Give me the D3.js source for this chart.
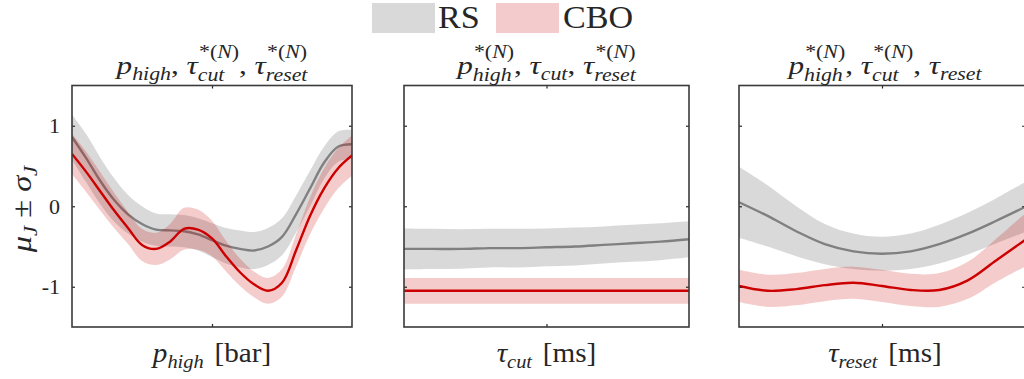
<!DOCTYPE html>
<html>
<head>
<meta charset="utf-8">
<script src="https://cdn.jsdelivr.net/npm/d3@7"></script>
<style>
  body { margin: 0; background: #fff; }
  text { font-family: "Liberation Serif", "DejaVu Serif", serif; fill: #262626; white-space: pre; }
</style>
</head>
<body>
<div id="chart"></div>
<script>
// series names for the legend
const seriesNames = ["RS", "CBO"];

// panel 1: p_high sweep (normalised x)
const xP1 = [0, 0.05, 0.1, 0.15, 0.2, 0.25, 0.3, 0.35, 0.4, 0.45, 0.5, 0.55, 0.6, 0.65, 0.7, 0.75, 0.8, 0.85, 0.9, 0.95, 1];
const rsMeanP1 = [0.86, 0.6, 0.32, 0.08, -0.1, -0.22, -0.29, -0.3, -0.31, -0.35, -0.42, -0.49, -0.53, -0.55, -0.5, -0.38, -0.1, 0.22, 0.54, 0.74, 0.77];
const rsSdP1 = [0.28, 0.3, 0.29, 0.27, 0.24, 0.22, 0.2, 0.2, 0.2, 0.2, 0.21, 0.22, 0.23, 0.23, 0.23, 0.23, 0.23, 0.22, 0.2, 0.19, 0.18];
const cboMeanP1 = [0.65, 0.43, 0.19, -0.05, -0.27, -0.48, -0.53, -0.44, -0.28, -0.29, -0.4, -0.62, -0.82, -0.97, -1.05, -0.95, -0.55, -0.12, 0.22, 0.47, 0.63];
const cboSdP1 = [0.25, 0.25, 0.24, 0.22, 0.2, 0.2, 0.2, 0.22, 0.26, 0.25, 0.22, 0.19, 0.17, 0.16, 0.16, 0.17, 0.2, 0.23, 0.25, 0.25, 0.25];

// panel 2: tau_cut sweep
const xP2 = [0, 0.1, 0.2, 0.3, 0.4, 0.5, 0.6, 0.7, 0.8, 0.9, 1];
const rsMeanP2 = [-0.53, -0.53, -0.53, -0.52, -0.52, -0.51, -0.5, -0.48, -0.46, -0.44, -0.41];
const rsSdP2 = [0.255, 0.25, 0.245, 0.24, 0.24, 0.235, 0.235, 0.23, 0.23, 0.23, 0.225];
const cboMeanP2 = [-1.05, -1.05, -1.05, -1.05, -1.05, -1.05, -1.05, -1.05, -1.05, -1.05, -1.05];
const cboSdP2 = [0.16, 0.16, 0.16, 0.16, 0.16, 0.16, 0.16, 0.16, 0.16, 0.16, 0.16];

// panel 3: tau_reset sweep
const xP3 = [0, 0.1, 0.2, 0.3, 0.4, 0.5, 0.6, 0.7, 0.8, 0.9, 1];
const rsMeanP3 = [0.05, -0.12, -0.31, -0.47, -0.56, -0.59, -0.56, -0.47, -0.34, -0.18, -0.01];
const rsSdP3 = [0.44, 0.38, 0.31, 0.25, 0.22, 0.21, 0.22, 0.24, 0.26, 0.28, 0.31];
const cboMeanP3 = [-0.99, -1.05, -1.03, -0.98, -0.95, -0.99, -1.04, -1.04, -0.92, -0.67, -0.42];
const cboSdP3 = [0.2, 0.2, 0.2, 0.2, 0.2, 0.2, 0.2, 0.21, 0.23, 0.27, 0.33];

const yTicks = [-1, 0, 1];
const yTickLabels = ["-1", "0", "1"];

const width = 1024, height = 379;
const plotTop = 85.5, plotBottom = 327;
const rsLine = "#808080", rsFill = "rgba(128,128,128,0.3)";
const cboLine = "#cc0000", cboFill = "rgba(204,0,0,0.2)";

const svg = d3.select("#chart").append("svg")
  .attr("width", width).attr("height", height);

const yScale = d3.scaleLinear().domain([-1.5, 1.5]).range([plotBottom, plotTop]);

// write a string as tspans: letters in math italic unless roman
const addRuns = (sel, str, roman) => {
  (str.match(/[A-Za-zα-ωμστ]+|[^A-Za-zα-ωμστ]+/g) || []).forEach(run => {
    const letters = /[A-Za-zα-ω]/.test(run);
    sel.append("tspan")
      .style("font-style", letters && !roman ? "italic" : "normal")
      .text(run);
  });
};

// little latex-ish layout: base, subscript and superscript stacked
const mathText = (parent, parts, size) => {
  const g = parent.append("g");
  let x = 0;
  parts.forEach(p => {
    const t = g.append("text").attr("x", x).attr("y", 0).style("font-size", size + "px");
    addRuns(t, p.b, p.rm);
    x += t.node().getComputedTextLength();
    let w = 0;
    const small = size * 0.7;
    if (p.sub) {
      const s = g.append("text").attr("x", x)
        .attr("y", size * (p.sup ? 0.26 : 0.22))
        .style("font-size", small + "px");
      addRuns(s, p.sub, false);
      w = Math.max(w, s.node().getComputedTextLength());
    }
    if (p.sup) {
      const s = g.append("text").attr("x", x + 1)
        .attr("y", -size * 0.62)
        .style("font-size", small + "px");
      addRuns(s, p.sup, false);
      w = Math.max(w, s.node().getComputedTextLength() + 1);
    }
    x += w + (p.gap || 0);
  });
  return { g, w: x };
};

// centre a math label, stretched sideways a little (the source figure is wide)
const placeCentered = (parts, size, cx, baseline, sx) => {
  const m = mathText(svg, parts, size);
  m.g.attr("transform", `translate(${cx - m.w * sx / 2},${baseline}) scale(${sx},1)`);
};

const panels = [
  {
    left: 72, right: 352, x: xP1,
    rs: [rsMeanP1, rsSdP1], cbo: [cboMeanP1, cboSdP1], labels: true,
    title: [{ b: "p", sub: "high" }, { b: ", " }, { b: "τ", sub: "cut", sup: "*(N)" }, { b: ", " }, { b: "τ", sub: "reset", sup: "*(N)" }],
    xlabel: [{ b: "p", sub: "high", gap: 10 }, { b: "[bar]", rm: true }]
  },
  {
    left: 404, right: 689, x: xP2,
    rs: [rsMeanP2, rsSdP2], cbo: [cboMeanP2, cboSdP2], labels: false,
    title: [{ b: "p", sub: "high", sup: "*(N)" }, { b: ", " }, { b: "τ", sub: "cut" }, { b: ", " }, { b: "τ", sub: "reset", sup: "*(N)" }],
    xlabel: [{ b: "τ", sub: "cut", gap: 10 }, { b: "[ms]", rm: true }]
  },
  {
    left: 739, right: 1025, x: xP3,
    rs: [rsMeanP3, rsSdP3], cbo: [cboMeanP3, cboSdP3], labels: false,
    title: [{ b: "p", sub: "high", sup: "*(N)" }, { b: ", " }, { b: "τ", sub: "cut", sup: "*(N)" }, { b: ", " }, { b: "τ", sub: "reset" }],
    xlabel: [{ b: "τ", sub: "reset", gap: 10 }, { b: "[ms]", rm: true }]
  }
];

const drawPanel = (p, i) => {
  const xScale = d3.scaleLinear().domain([0, 1]).range([p.left, p.right]);
  const clipId = "clip" + i;
  svg.append("clipPath").attr("id", clipId)
    .append("rect")
    .attr("x", p.left).attr("y", plotTop)
    .attr("width", p.right - p.left).attr("height", plotBottom - plotTop);

  const inner = svg.append("g").attr("clip-path", `url(#${clipId})`);

  const series = [
    { mean: p.rs[0], sd: p.rs[1], fill: rsFill, line: rsLine },
    { mean: p.cbo[0], sd: p.cbo[1], fill: cboFill, line: cboLine }
  ];

  series.forEach(s => {
    const rows = p.x.map((x, j) => ({ x, m: s.mean[j], sd: s.sd[j] }));
    inner.append("path")
      .datum(rows)
      .attr("fill", s.fill)
      .attr("d", d3.area()
        .x(d => xScale(d.x))
        .y0(d => yScale(d.m - d.sd))
        .y1(d => yScale(d.m + d.sd))
        .curve(d3.curveCatmullRom));
    inner.append("path")
      .datum(rows)
      .attr("fill", "none")
      .attr("stroke", s.line)
      .attr("stroke-width", 2.4)
      .attr("d", d3.line()
        .x(d => xScale(d.x))
        .y(d => yScale(d.m))
        .curve(d3.curveCatmullRom));
  });

  // axes with inward ticks, box drawn separately
  const left = svg.append("g").attr("transform", `translate(${p.left},0)`)
    .call(d3.axisLeft(yScale).tickValues(yTicks).tickSize(-3).tickPadding(12)
      .tickFormat((d, k) => p.labels ? yTickLabels[k] : ""));
  const right = svg.append("g").attr("transform", `translate(${p.right},0)`)
    .call(d3.axisRight(yScale).tickValues(yTicks).tickSize(-3).tickFormat(""));
  const bottom = svg.append("g").attr("transform", `translate(0,${plotBottom})`)
    .call(d3.axisBottom(xScale).tickValues([0.5]).tickSize(-3).tickFormat(""));
  const top = svg.append("g").attr("transform", `translate(0,${plotTop})`)
    .call(d3.axisTop(xScale).tickValues([0.5]).tickSize(-3).tickFormat(""));

  [left, right, bottom, top].forEach(a => {
    a.select(".domain").remove();
    a.selectAll("line").attr("stroke", "#262626").attr("stroke-width", 1.2);
    a.selectAll("text")
      .style("font-family", "'Liberation Serif', serif")
      .style("font-size", "22px")
      .attr("fill", "#262626");
  });

  svg.append("rect")
    .attr("x", p.left).attr("y", plotTop)
    .attr("width", p.right - p.left).attr("height", plotBottom - plotTop)
    .attr("fill", "none")
    .attr("stroke", "#3a3a3a")
    .attr("stroke-width", 1.6);

  const cx = i === 2 ? (p.left + 1031) / 2 : (p.left + p.right) / 2;
  placeCentered(p.title, 26, cx, 74, 1.2);
  placeCentered(p.xlabel, 27, cx, 362, 1.08);
};

panels.forEach(drawPanel);

// y axis label, rotated
const ylab = mathText(svg, [{ b: "μ", sub: "J" }, { b: " ± " }, { b: "σ", sub: "J" }], 27);
ylab.g.attr("transform", `translate(31,${209 + ylab.w * 1.2 / 2}) rotate(-90) scale(1.2,1)`);

// legend
const legendItems = [
  { name: seriesNames[0], fill: "#d9d9d9", x: 372, tx: 438 },
  { name: seriesNames[1], fill: "#f3cbcc", x: 496, tx: 563 }
];
const legend = svg.append("g");
legend.selectAll("rect")
  .data(legendItems)
  .join("rect")
  .attr("x", d => d.x).attr("y", 3)
  .attr("width", 63).attr("height", 30)
  .attr("fill", d => d.fill);
legend.selectAll("text")
  .data(legendItems)
  .join("text")
  .attr("transform", d => `translate(${d.tx},28) scale(1.1,1)`)
  .style("font-size", "31px")
  .text(d => d.name);
</script>
</body>
</html>
